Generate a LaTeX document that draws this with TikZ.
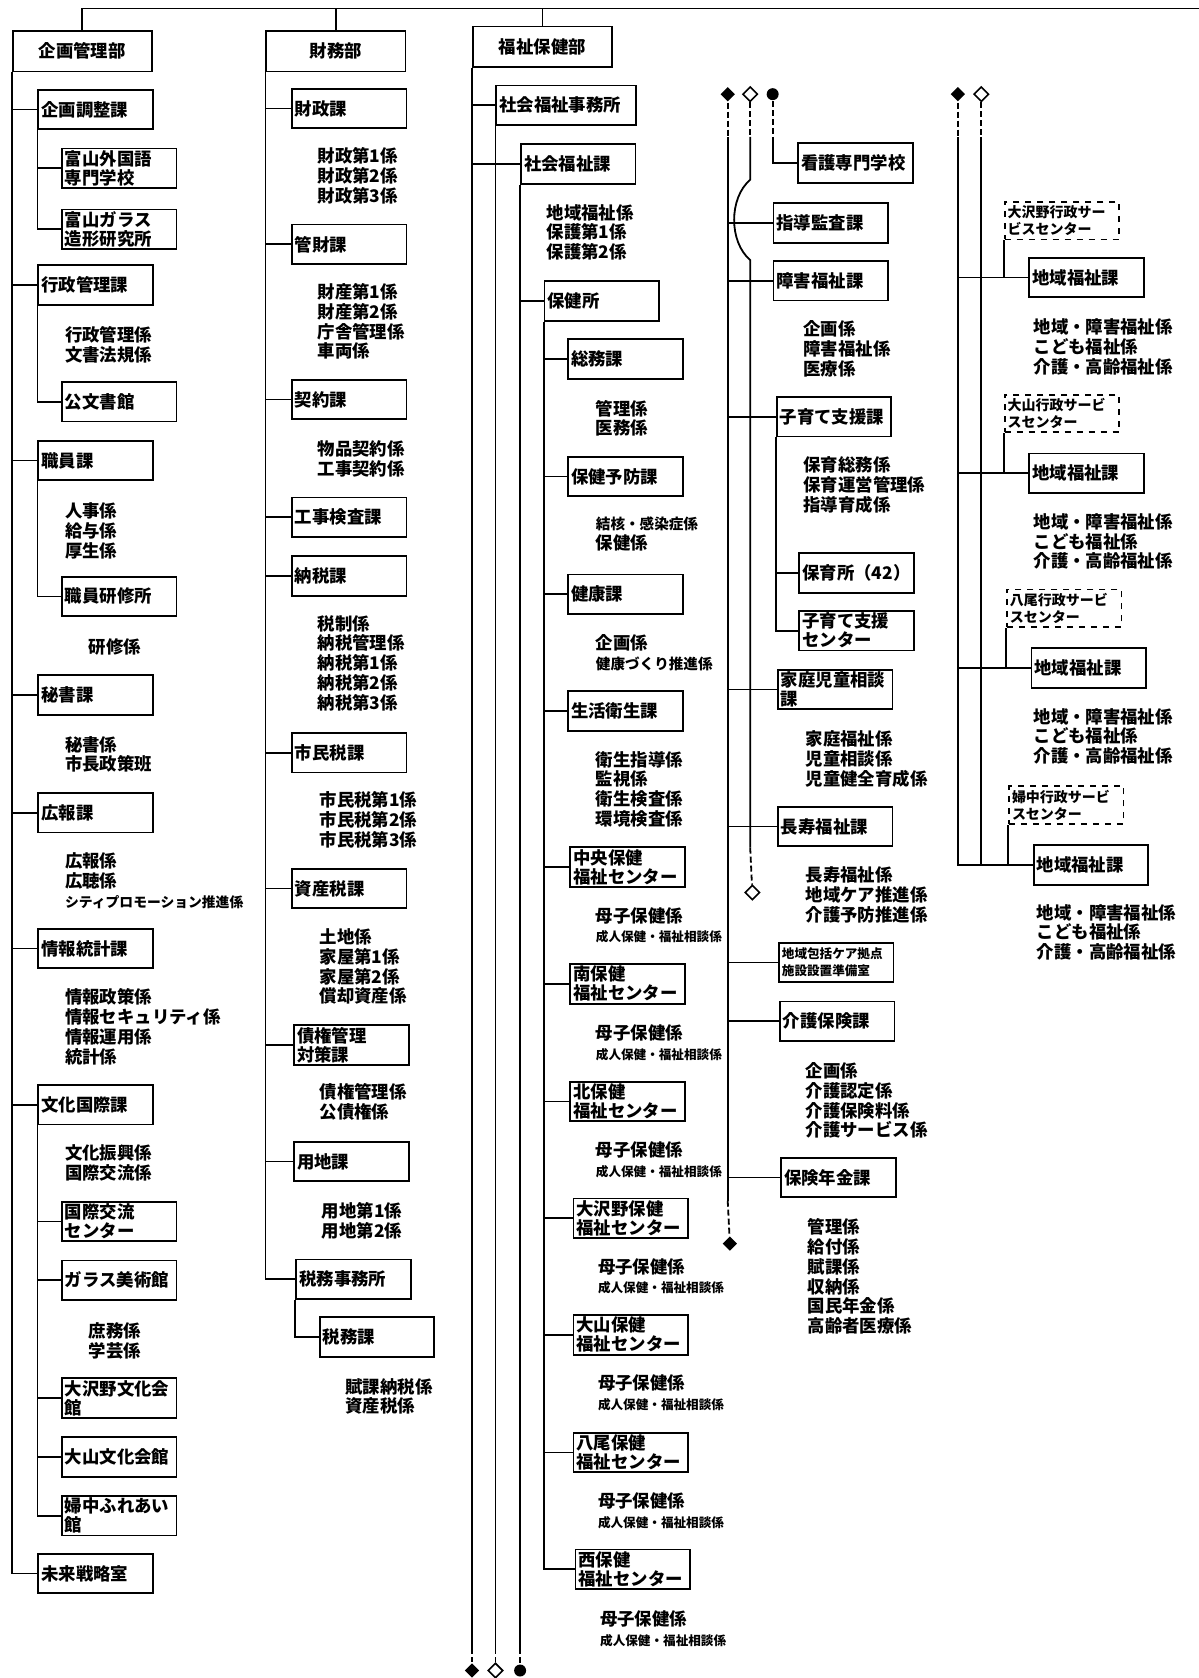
\documentclass[tikz,border=0pt]{standalone}
\usepackage{fontspec}
\setmainfont{Noto Sans CJK JP}
\usetikzlibrary{shapes.geometric}

\newcommand{\boxfont}{\fontsize{8.7pt}{9.5pt}\selectfont\bfseries}
\newcommand{\listfont}{\fontsize{8.7pt}{9.9pt}\selectfont\bfseries}
\newcommand{\svcfont}{\fontsize{7pt}{8.6pt}\selectfont\bfseries}
\newcommand{\smallfont}[1]{\fontsize{#1}{8pt}\selectfont}

\begin{document}
\begin{tikzpicture}[x=0.5353pt, y=-0.5353pt, line width=0.9pt,
    bu/.style={draw, anchor=north west, minimum width=69.6pt, minimum height=20.3pt, inner sep=0pt, font=\boxfont},
    ka/.style={draw, anchor=north west, text width=54.3pt, minimum height=19.8pt, inner xsep=1.5pt, inner ysep=0.5pt, align=left, font=\boxfont},
    kakari/.style={anchor=north west, inner sep=0pt, align=left, font=\listfont},
    svc/.style={ka, dashed, minimum height=18.7pt, font=\svcfont},
    mkb/.style={diamond, fill, inner sep=0pt, minimum size=7.5pt},
    mkw/.style={diamond, draw, fill=white, line width=0.8pt, inner sep=0pt, minimum size=7.5pt},
    mkc/.style={circle, fill, inner sep=0pt, minimum size=6pt},
    link/.style={dash pattern=on 3pt off 1.5pt}]

    \useasboundingbox (0,0) rectangle (1120,1568);

    % departments
    \node[bu] (kikakubu) at (11,28) {企画管理部};
    \node[bu] (zaimubu) at (248,28) {財務部};
    \node[bu] (fukushibu) at (441,24) {福祉保健部};
    \coordinate (topR) at (1120,8);
    \draw (kikakubu.north) |- (topR);
    \draw (zaimubu.north) -- (zaimubu.north |- topR);
    \draw (fukushibu.north) -- (fukushibu.north |- topR);

    % 企画管理部
    \node[ka] (chosei) at (35,83) {企画調整課};
    \node[ka] (gaikokugo) at (57,138) {富山外国語\\専門学校};
    \node[ka] (glasszokei) at (57,195) {富山ガラス\\造形研究所};
    \node[ka] (gyosei) at (35,247) {行政管理課};
    \node[kakari] (gyoseiL) at (60,304) {行政管理係\\文書法規係};
    \node[ka] (kobunsho) at (57,356) {公文書館};
    \node[ka] (shokuin) at (35,411) {職員課};
    \node[kakari] (shokuinL) at (60,469) {人事係\\給与係\\厚生係};
    \node[ka] (kenshujo) at (57,538) {職員研修所};
    \node[kakari] (kenshujoL) at (82,596) {研修係};
    \node[ka] (hisho) at (35,630) {秘書課};
    \node[kakari] (hishoL) at (60,687) {秘書係\\市長政策班};
    \node[ka] (koho) at (35,740) {広報課};
    \node[kakari] (kohoL) at (60,796) {広報係\\広聴係\\{\smallfont{6.9pt}シティプロモーション推進係}};
    \node[ka] (joho) at (35,867) {情報統計課};
    \node[kakari] (johoL) at (60,923) {情報政策係\\情報セキュリティ係\\情報運用係\\統計係};
    \node[ka] (bunka) at (35,1013) {文化国際課};
    \node[kakari] (bunkaL) at (60,1069) {文化振興係\\国際交流係};
    \node[ka] (kokusai) at (57,1122) {国際交流\\センター};
    \node[ka] (glassbi) at (57,1177) {ガラス美術館};
    \node[kakari] (glassbiL) at (82,1235) {庶務係\\学芸係};
    \node[ka] (osawano) at (57,1287) {大沢野文化会\\館};
    \node[ka] (oyama) at (57,1342) {大山文化会館};
    \node[ka] (fuchu) at (57,1397) {婦中ふれあい\\館};
    \node[ka] (mirai) at (35,1451) {未来戦略室};

    \draw (kikakubu.south west) |- (mirai.west);
    \draw (kikakubu.south west |- chosei.west) -- (chosei.west);
    \draw (kikakubu.south west |- gyosei.west) -- (gyosei.west);
    \draw (kikakubu.south west |- shokuin.west) -- (shokuin.west);
    \draw (kikakubu.south west |- hisho.west) -- (hisho.west);
    \draw (kikakubu.south west |- koho.west) -- (koho.west);
    \draw (kikakubu.south west |- joho.west) -- (joho.west);
    \draw (kikakubu.south west |- bunka.west) -- (bunka.west);
    \draw (chosei.south west) |- (glasszokei.west);
    \draw (chosei.south west |- gaikokugo.west) -- (gaikokugo.west);
    \draw (gyosei.south west) |- (kobunsho.west);
    \draw (shokuin.south west) |- (kenshujo.west);
    \draw (bunka.south west) |- (fuchu.west);
    \draw (bunka.south west |- kokusai.west) -- (kokusai.west);
    \draw (bunka.south west |- glassbi.west) -- (glassbi.west);
    \draw (bunka.south west |- osawano.west) -- (osawano.west);
    \draw (bunka.south west |- oyama.west) -- (oyama.west);

    % 財務部
    \node[ka] (zaisei) at (272,82) {財政課};
    \node[kakari] (zaiseiL) at (296,137) {財政第1係\\財政第2係\\財政第3係};
    \node[ka] (kanzai) at (272,209) {管財課};
    \node[kakari] (kanzaiL) at (296,264) {財産第1係\\財産第2係\\庁舎管理係\\車両係};
    \node[ka] (keiyaku) at (272,354) {契約課};
    \node[kakari] (keiyakuL) at (296,411) {物品契約係\\工事契約係};
    \node[ka] (kensa) at (272,464) {工事検査課};
    \node[ka] (nozei) at (272,519) {納税課};
    \node[kakari] (nozeiL) at (296,574) {税制係\\納税管理係\\納税第1係\\納税第2係\\納税第3係};
    \node[ka] (shiminzei) at (272,684) {市民税課};
    \node[kakari] (shiminzeiL) at (298,739) {市民税第1係\\市民税第2係\\市民税第3係};
    \node[ka] (shisanzei) at (272,811) {資産税課};
    \node[kakari] (shisanzeiL) at (298,867) {土地係\\家屋第1係\\家屋第2係\\償却資産係};
    \node[ka] (saiken) at (274,957) {債権管理\\対策課};
    \node[kakari] (saikenL) at (298,1012) {債権管理係\\公債権係};
    \node[ka] (yochi) at (274,1066) {用地課};
    \node[kakari] (yochiL) at (300,1123) {用地第1係\\用地第2係};
    \node[ka] (zeimusho) at (276,1176) {税務事務所};
    \node[ka] (zeimuka) at (298,1230) {税務課};
    \node[kakari] (zeimukaL) at (322,1287) {賦課納税係\\資産税係};

    \draw (zaimubu.south west) |- (zeimusho.west);
    \draw (zaimubu.south west |- zaisei.west) -- (zaisei.west);
    \draw (zaimubu.south west |- kanzai.west) -- (kanzai.west);
    \draw (zaimubu.south west |- keiyaku.west) -- (keiyaku.west);
    \draw (zaimubu.south west |- kensa.west) -- (kensa.west);
    \draw (zaimubu.south west |- nozei.west) -- (nozei.west);
    \draw (zaimubu.south west |- shiminzei.west) -- (shiminzei.west);
    \draw (zaimubu.south west |- shisanzei.west) -- (shisanzei.west);
    \draw (zaimubu.south west |- saiken.west) -- (saiken.west);
    \draw (zaimubu.south west |- yochi.west) -- (yochi.west);
    \draw (zeimusho.south west) |- (zeimuka.west);

    % 福祉保健部
    \node[ka, text width=67pt] (jimusho) at (463,79) {社会福祉事務所};
    \node[ka] (shakaika) at (486,134) {社会福祉課};
    \node[kakari] (shakaikaL) at (510,190) {地域福祉係\\保護第1係\\保護第2係};
    \node[ka] (hokenjo) at (508,262) {保健所};
    \node[ka] (somu) at (530,316) {総務課};
    \node[kakari] (somuL) at (556,373) {管理係\\医務係};
    \node[ka] (yobo) at (530,426) {保健予防課};
    \node[kakari] (yoboL) at (556,482) {{\smallfont{7.3pt}結核・感染症係}\\保健係};
    \node[ka] (kenko) at (530,536) {健康課};
    \node[kakari] (kenkoL) at (556,592) {企画係\\{\smallfont{7.3pt}健康づくり推進係}};
    \node[ka] (seikatsu) at (530,645) {生活衛生課};
    \node[kakari] (seikatsuL) at (556,701) {衛生指導係\\監視係\\衛生検査係\\環境検査係};
    \node[ka] (chuo) at (532,791) {中央保健\\福祉センター};
    \node[kakari] (chuoL) at (556,847) {母子保健係\\{\smallfont{6.3pt}成人保健・福祉相談係}};
    \node[ka] (minami) at (532,900) {南保健\\福祉センター};
    \node[kakari] (minamiL) at (556,957) {母子保健係\\{\smallfont{6.3pt}成人保健・福祉相談係}};
    \node[ka] (kita) at (532,1010) {北保健\\福祉センター};
    \node[kakari] (kitaL) at (556,1066) {母子保健係\\{\smallfont{6.3pt}成人保健・福祉相談係}};
    \node[ka] (osawanoH) at (535,1119) {大沢野保健\\福祉センター};
    \node[kakari] (osawanoHL) at (558,1175) {母子保健係\\{\smallfont{6.3pt}成人保健・福祉相談係}};
    \node[ka] (oyamaH) at (535,1228) {大山保健\\福祉センター};
    \node[kakari] (oyamaHL) at (558,1284) {母子保健係\\{\smallfont{6.3pt}成人保健・福祉相談係}};
    \node[ka] (yatsuoH) at (535,1338) {八尾保健\\福祉センター};
    \node[kakari] (yatsuoHL) at (558,1394) {母子保健係\\{\smallfont{6.3pt}成人保健・福祉相談係}};
    \node[ka] (nishiH) at (537,1447) {西保健\\福祉センター};
    \node[kakari] (nishiHL) at (560,1504) {母子保健係\\{\smallfont{6.3pt}成人保健・福祉相談係}};

    \node[mkb] (mA0) at (441,1561) {};
    \node[mkw] (mB0) at (463,1561) {};
    \node[mkc] (mC0) at (486,1561) {};
    \coordinate (dA0) at (441,1540);
    \coordinate (dB0) at (463,1540);
    \coordinate (dC0) at (486,1540);
    \draw (fukushibu.south west) -- (dA0);
    \draw[link] (dA0) -- (mA0);
    \draw (jimusho.south west) -- (dB0);
    \draw[link] (dB0) -- (mB0);
    \draw (shakaika.south west) -- (dC0);
    \draw[link] (dC0) -- (mC0);
    \draw (fukushibu.south west |- jimusho.west) -- (jimusho.west);
    \draw (fukushibu.south west |- shakaika.west) -- (shakaika.west);
    \draw (shakaika.south west |- hokenjo.west) -- (hokenjo.west);
    \draw (hokenjo.south west) |- (nishiH.west);
    \draw (hokenjo.south west |- somu.west) -- (somu.west);
    \draw (hokenjo.south west |- yobo.west) -- (yobo.west);
    \draw (hokenjo.south west |- kenko.west) -- (kenko.west);
    \draw (hokenjo.south west |- seikatsu.west) -- (seikatsu.west);
    \draw (hokenjo.south west |- chuo.west) -- (chuo.west);
    \draw (hokenjo.south west |- minami.west) -- (minami.west);
    \draw (hokenjo.south west |- kita.west) -- (kita.west);
    \draw (hokenjo.south west |- osawanoH.west) -- (osawanoH.west);
    \draw (hokenjo.south west |- oyamaH.west) -- (oyamaH.west);
    \draw (hokenjo.south west |- yatsuoH.west) -- (yatsuoH.west);

    % continued column
    \node[mkb] (mA1) at (680,88) {};
    \node[mkw] (mB1) at (701,88) {};
    \node[mkc] (mC1) at (722,88) {};
    \node[ka] (kango) at (745,133) {看護専門学校};
    \node[ka] (kansa) at (722,189) {指導監査課};
    \node[ka] (shogai) at (722,243) {障害福祉課};
    \node[kakari] (shogaiL) at (750,299) {企画係\\障害福祉係\\医療係};
    \node[ka] (kosodate) at (725,370) {子育て支援課};
    \node[kakari] (kosodateL) at (750,426) {保育総務係\\保育運営管理係\\指導育成係};
    \node[ka] (hoikusho) at (746,516) {保育所（42）};
    \node[ka] (kcenter) at (746,570) {子育て支援\\センター};
    \node[ka] (katei) at (726,625) {家庭児童相談\\課};
    \node[kakari] (kateiL) at (752,682) {家庭福祉係\\児童相談係\\児童健全育成係};
    \node[ka] (choju) at (726,753) {長寿福祉課};
    \node[kakari] (chojuL) at (752,809) {長寿福祉係\\地域ケア推進係\\介護予防推進係};
    \node[ka, font=\fontsize{6.3pt}{8.4pt}\selectfont\bfseries] (houkatsu) at (727,880) {地域包括ケア拠点\\施設設置準備室};
    \node[ka] (kaigo) at (728,935) {介護保険課};
    \node[kakari] (kaigoL) at (752,992) {企画係\\介護認定係\\介護保険料係\\介護サービス係};
    \node[ka] (nenkin) at (729,1081) {保険年金課};
    \node[kakari] (nenkinL) at (754,1138) {管理係\\給付係\\賦課係\\収納係\\国民年金係\\高齢者医療係};
    \node[mkw] (mB2) at (703,834) {};
    \node[mkb] (mA2) at (682,1162) {};

    \coordinate (cA1) at (680,128);
    \coordinate (cA2) at (680,1122);
    \coordinate (cB1) at (701,128);
    \coordinate (cB2) at (701,168);
    \coordinate (cB3) at (701,243);
    \coordinate (cB4) at (701,792);
    \coordinate (cC1) at (722,128);
    \draw[link] (mC1) -- (cC1);
    \draw (cC1) |- (kango.west);
    \draw[link] (mA1) -- (cA1);
    \draw (cA1) -- (cA2);
    \draw[link] (cA2) -- (mA2);
    \draw[link] (mB1) -- (cB1);
    \draw (cB1) -- (cB2) .. controls (681,185) and (681,226) .. (cB3) -- (cB4);
    \draw[link] (cB4) -- (mB2);
    \draw (cA1 |- kansa.west) -- (kansa.west);
    \draw (cA1 |- shogai.west) -- (shogai.west);
    \draw (cA1 |- kosodate.west) -- (kosodate.west);
    \draw (cA1 |- katei.west) -- (katei.west);
    \draw (cA1 |- choju.west) -- (choju.west);
    \draw (cA1 |- houkatsu.west) -- (houkatsu.west);
    \draw (cA1 |- kaigo.west) -- (kaigo.west);
    \draw (cA1 |- nenkin.west) -- (nenkin.west);
    \draw (kosodate.south west) |- (kcenter.west);
    \draw (kosodate.south west |- hoikusho.west) -- (hoikusho.west);

    % 行政サービスセンター
    \node[mkb] (mA3) at (895,88) {};
    \node[mkw] (mB3) at (917,88) {};
    \node[svc] (svc1) at (938,188) {大沢野行政サー\\ビスセンター};
    \node[ka] (chiiki1) at (961,240) {地域福祉課};
    \node[kakari] (chiiki1L) at (965,297) {地域・障害福祉係\\こども福祉係\\介護・高齢福祉係};
    \node[svc] (svc2) at (938,368) {大山行政サービ\\スセンター};
    \node[ka] (chiiki2) at (961,423) {地域福祉課};
    \node[kakari] (chiiki2L) at (965,479) {地域・障害福祉係\\こども福祉係\\介護・高齢福祉係};
    \node[svc] (svc3) at (940,550) {八尾行政サービ\\スセンター};
    \node[ka] (chiiki3) at (963,605) {地域福祉課};
    \node[kakari] (chiiki3L) at (965,661) {地域・障害福祉係\\こども福祉係\\介護・高齢福祉係};
    \node[svc] (svc4) at (942,734) {婦中行政サービ\\スセンター};
    \node[ka] (chiiki4) at (965,789) {地域福祉課};
    \node[kakari] (chiiki4L) at (968,844) {地域・障害福祉係\\こども福祉係\\介護・高齢福祉係};

    \coordinate (cD1) at (895,128);
    \coordinate (cE1) at (917,128);
    \draw[link] (mA3) -- (cD1);
    \draw (cD1) |- (chiiki4.west);
    \draw (cD1 |- chiiki1.west) -- (chiiki1.west);
    \draw (cD1 |- chiiki2.west) -- (chiiki2.west);
    \draw (cD1 |- chiiki3.west) -- (chiiki3.west);
    \draw[link] (mB3) -- (cE1);
    \draw (cE1) -- (cE1 |- chiiki4.west);
    \draw (svc1.south west) -- (svc1.south west |- chiiki1.west);
    \draw (svc2.south west) -- (svc2.south west |- chiiki2.west);
    \draw (svc3.south west) -- (svc3.south west |- chiiki3.west);
    \draw (svc4.south west) -- (svc4.south west |- chiiki4.west);
\end{tikzpicture}
\end{document}
